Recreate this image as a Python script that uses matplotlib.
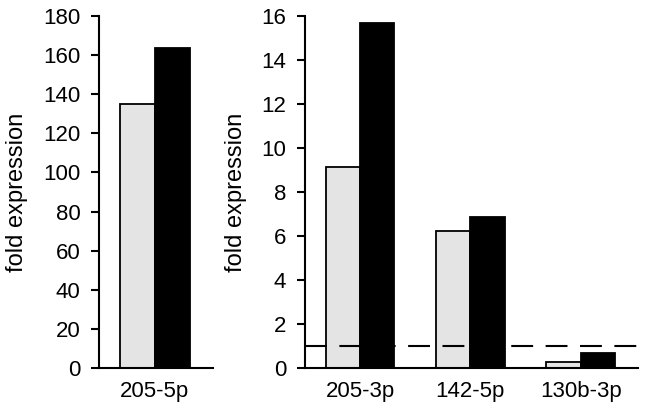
import matplotlib
matplotlib.use("Agg")
import matplotlib.pyplot as plt
import numpy as np

# dados
left_labels = ["205-5p"]
left_gray = [135.2]
left_black = [163.6]

right_labels = ["205-3p", "142-5p", "130b-3p"]
right_gray = [9.15, 6.22, 0.27]
right_black = [15.68, 6.88, 0.70]

gray_color = "#e4e4e4"
plt.rcParams['font.family'] = ['Liberation Sans', 'DejaVu Sans']

fig = plt.figure(figsize=(6.45, 4.12), dpi=100)
ax1 = fig.add_axes([99/645, 44/412, 114/645, 352/412])
ax2 = fig.add_axes([305/645, 44/412, 333/645, 352/412])

w = 0.31


def draw(ax, labels, g, b, ymax, step):
    x = np.arange(len(labels))
    ax.bar(x - w/2, g, w, color=gray_color, edgecolor="black", linewidth=1.3)
    ax.bar(x + w/2, b, w, color="black", edgecolor="black", linewidth=1.3)
    ax.set_xticks(x)
    ax.set_xticklabels(labels)
    ax.set_xlim(-0.5, len(labels) - 0.48)
    ax.set_ylim(0, ymax)
    ax.set_yticks(np.arange(0, ymax + step / 2, step))
    for s in ["top", "right"]:
        ax.spines[s].set_visible(False)
    for s in ["left", "bottom"]:
        ax.spines[s].set_linewidth(1.5)
    ax.tick_params(axis="y", direction="out", length=5.5, width=1.5, labelsize=16, pad=8)
    ax.tick_params(axis="x", length=0, labelsize=16, pad=9)
    ax.set_ylabel("fold expression", fontsize=17)


draw(ax1, left_labels, left_gray, left_black, 180, 20)
draw(ax2, right_labels, right_gray, right_black, 16, 2)
ax1.yaxis.set_label_coords(-0.62, 0.5)
ax2.yaxis.set_label_coords(-0.175, 0.5)
ax2.axhline(1, color="black", linewidth=1.5, dashes=(10.5, 6), zorder=3)

fig.savefig("out.png", dpi=100)
